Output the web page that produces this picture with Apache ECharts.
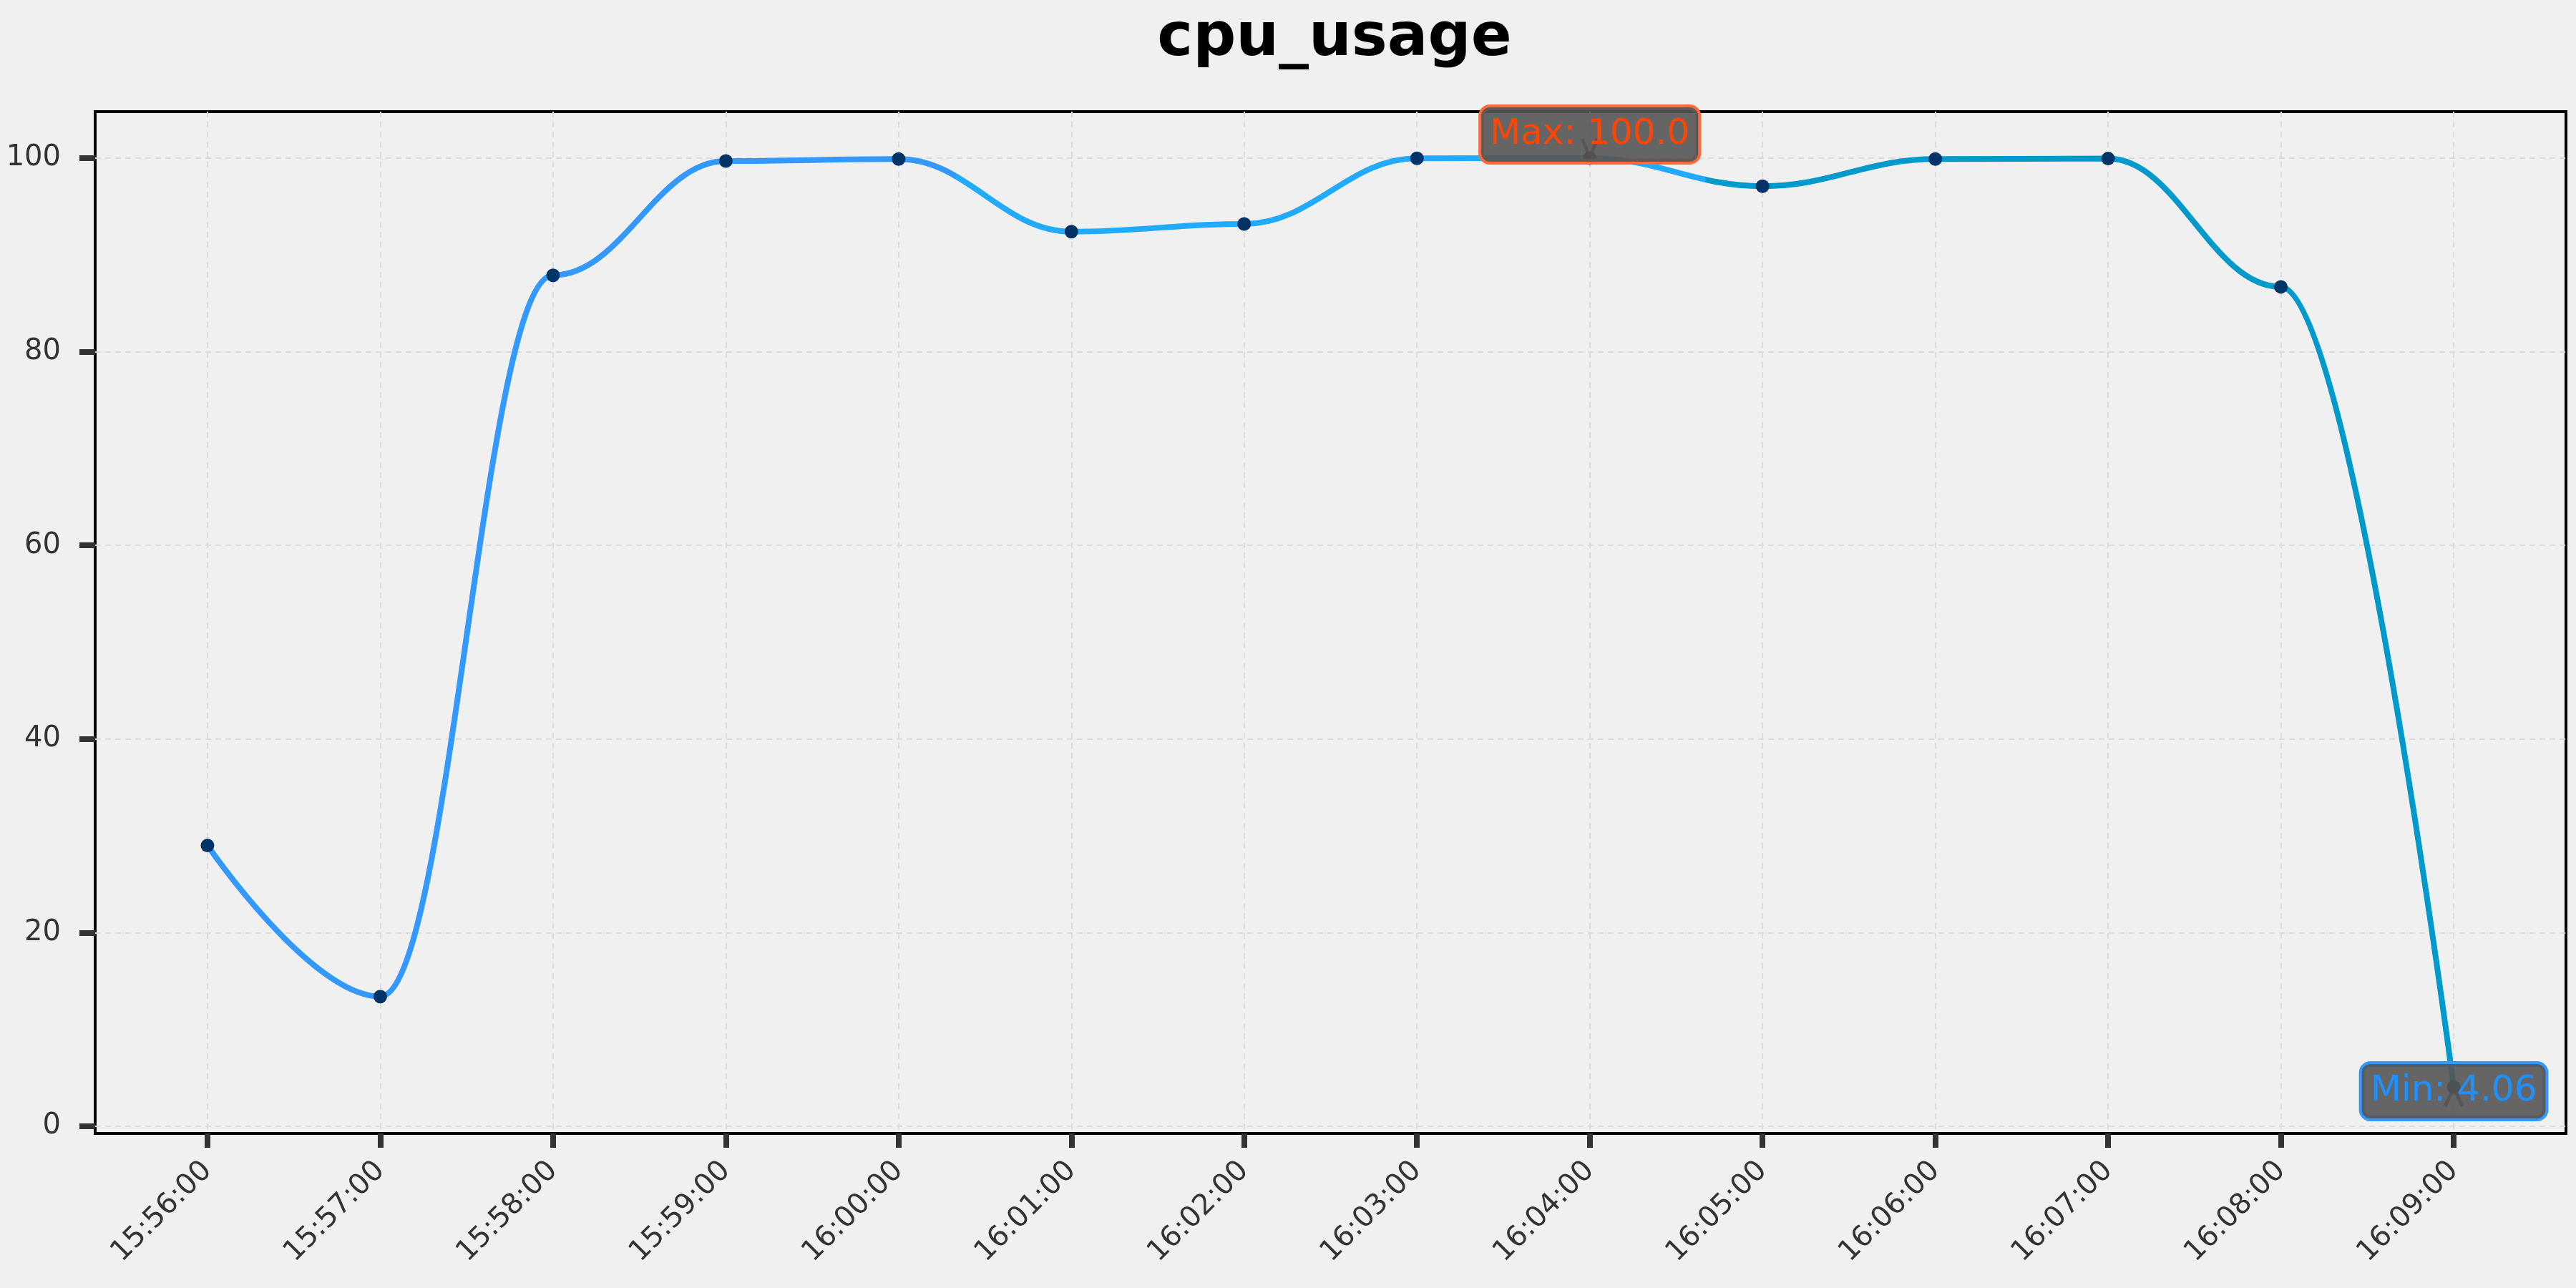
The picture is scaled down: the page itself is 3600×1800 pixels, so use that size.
<!DOCTYPE html>
<html>
<head>
<meta charset="utf-8">
<title>cpu_usage</title>
<script src="https://cdn.jsdelivr.net/npm/echarts@6/dist/echarts.min.js"></script>
<style>
  html, body { margin: 0; padding: 0; background: #f0f0f0; }
  #chart { width: 3600px; height: 1800px; }
</style>
</head>
<body>
<div id="chart"></div>
<script>
// sample times (one per minute)
const times = [
  '15:56:00', '15:57:00', '15:58:00', '15:59:00', '16:00:00', '16:01:00', '16:02:00',
  '16:03:00', '16:04:00', '16:05:00', '16:06:00', '16:07:00', '16:08:00', '16:09:00'
]
// cpu usage in percent
const cpuUsage = [29.0, 13.4, 87.9, 99.7, 99.9, 92.4, 93.2, 99.98, 100.0, 97.1, 99.9, 99.95, 86.7, 4.06]
const yTicks = [0, 20, 40, 60, 80, 100]

const font = 'DejaVu Sans'
const chart = echarts.init(document.getElementById('chart'))

const option = {
  backgroundColor: '#f0f0f0',
  animation: false,
  title: {
    text: 'cpu_usage',
    left: 1860,
    textAlign: 'center',
    top: 8,
    textStyle: { fontFamily: font, fontSize: 84, fontWeight: 'bold', color: '#000' }
  },
  grid: {
    left: 133,
    right: 14,
    top: 156,
    bottom: 216,
    show: true,
    backgroundColor: '#f0f0f0',
    borderColor: '#000',
    borderWidth: 4
  },
  xAxis: {
    type: 'value',
    min: -0.65,
    max: times.length - 1 + 0.65,
    axisLine: { show: false, onZero: false },
    axisTick: {
      show: true,
      customValues: times.map((t, i) => i),
      length: 20,
      lineStyle: { color: '#333', width: 8 }
    },
    axisLabel: {
      customValues: times.map((t, i) => i),
      formatter: v => times[Math.round(v)] || '',
      rotate: 45,
      margin: 46,
      fontFamily: font,
      fontSize: 40,
      color: '#333'
    },
    splitLine: {
      show: true,
      lineStyle: { color: '#dcdcdc', width: 2, type: [8, 6] }
    }
  },
  yAxis: {
    type: 'value',
    min: -0.74,
    max: 104.8,
    axisLine: { show: false, onZero: false },
    axisTick: {
      show: true,
      customValues: yTicks,
      length: 22,
      lineStyle: { color: '#333', width: 8 }
    },
    axisLabel: {
      customValues: yTicks,
      margin: 48,
      fontFamily: font,
      fontSize: 40,
      color: '#333'
    },
    splitLine: {
      show: true,
      lineStyle: { color: '#dcdcdc', width: 2, type: [8, 6] }
    }
  },
  series: [
    {
      name: 'cpu_usage',
      type: 'line',
      data: cpuUsage.map((v, i) => [i, v]),
      smooth: 0.4,
      smoothMonotone: 'x',
      symbol: 'circle',
      symbolSize: 19,
      itemStyle: { color: '#003366' },
      lineStyle: {
        width: 8,
        color: new echarts.graphic.LinearGradient(0, 0, 1, 0, [
          { offset: 0, color: '#3399ff' },
          { offset: 0.333, color: '#3399ff' },
          { offset: 0.334, color: '#22aaff' },
          { offset: 0.666, color: '#22aaff' },
          { offset: 0.667, color: '#0099cc' },
          { offset: 1, color: '#0099cc' }
        ])
      },
      markPoint: {
        z: 10,
        data: [
          {
            type: 'max',
            symbol: 'path://M0,0 L10,20 L20,0',
            symbolSize: [21, 26],
            symbolOffset: [0, -14],
            itemStyle: { color: 'none', borderColor: 'rgba(90,30,10,0.75)', borderWidth: 5 },
            label: {
              show: true,
              position: 'inside',
              offset: [0, -19],
              formatter: p => 'Max: ' + p.value.toFixed(1),
              fontFamily: font,
              fontSize: 50,
              color: '#ff4500',
              backgroundColor: 'rgba(85,85,85,0.9)',
              borderColor: '#ff6a3d',
              borderWidth: 4,
              borderRadius: 12,
              padding: [14, 12, 12, 12]
            }
          },
          {
            type: 'min',
            symbol: 'path://M0,20 L10,0 L20,20',
            symbolSize: [24, 26],
            symbolOffset: [0, 14],
            itemStyle: { color: 'none', borderColor: 'rgba(20,60,100,0.75)', borderWidth: 5 },
            label: {
              show: true,
              position: 'inside',
              offset: [0, -8],
              formatter: p => 'Min: ' + p.value.toFixed(2),
              fontFamily: font,
              fontSize: 50,
              color: '#1e90ff',
              backgroundColor: 'rgba(85,85,85,0.9)',
              borderColor: '#3399ff',
              borderWidth: 4,
              borderRadius: 12,
              padding: [14, 12, 12, 12]
            }
          }
        ]
      }
    }
  ]
}

chart.setOption(option)
</script>
</body>
</html>
